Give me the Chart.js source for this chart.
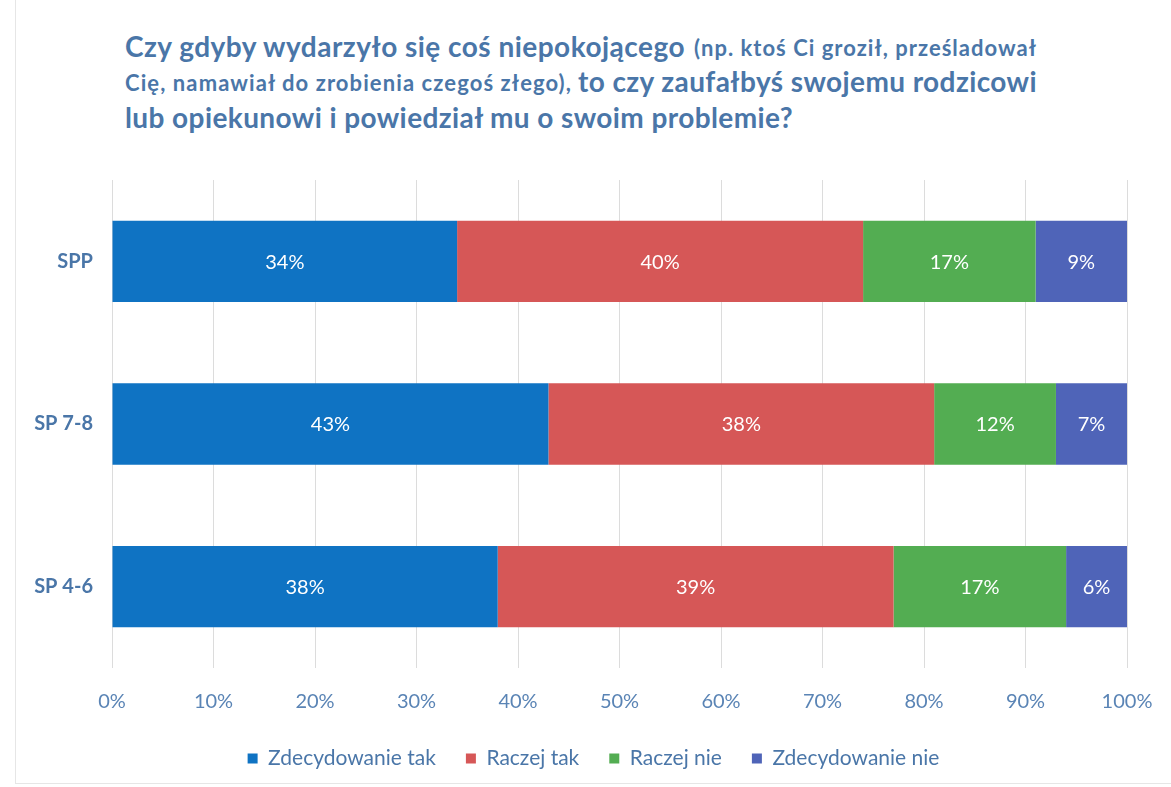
<!DOCTYPE html>
<html>
<head>
<meta charset="utf-8">
<script src="https://cdn.jsdelivr.net/npm/chart.js@4"></script>
<style>
  html,body{margin:0;padding:0;background:#fff;}
  #wrap{position:relative;width:1171px;height:787px;overflow:hidden;}
  #frame{position:absolute;left:15px;top:-2px;width:1160px;height:786px;border:1px solid #e6e6e6;box-sizing:border-box;}
  .t{position:absolute;font-family:Lato,"Open Sans",sans-serif;font-weight:bold;color:#4a76a8;line-height:1;white-space:nowrap;}
  .big{font-size:28px;}
  .small{font-size:22px;}
  canvas{position:absolute;left:0;top:0;}
</style>
</head>
<body>
<div id="wrap">
  <div id="frame"></div>
  <span class="t big"   data-x="125" data-b="57"  data-w="560">Czy gdyby wydarzyło się coś niepokojącego</span>
  <span class="t small" data-x="694" data-b="57"  data-w="343">(np. ktoś Ci groził, prześladował</span>
  <span class="t small" data-x="125" data-b="92"  data-w="447">Cię, namawiał do zrobienia czegoś złego),</span>
  <span class="t big"   data-x="578" data-b="92"  data-w="459">to czy zaufałbyś swojemu rodzicowi</span>
  <span class="t big"   data-x="125" data-b="128" data-w="668">lub opiekunowi i powiedział mu o swoim problemie?</span>
  <canvas id="c" width="1171" height="787"></canvas>
</div>
<script>
// fit title runs to the reference widths
document.querySelectorAll('.t').forEach(el => {
  const fs = parseFloat(getComputedStyle(el).fontSize);
  el.style.left = el.dataset.x + 'px';
  el.style.top = (parseFloat(el.dataset.b) - 0.887 * fs) + 'px';
  const w = el.getBoundingClientRect().width;
  const n = el.textContent.length;
  el.style.letterSpacing = ((parseFloat(el.dataset.w) - w) / n) + 'px';
});
</script>
<script>
const categories = ["SPP", "SP 7-8", "SP 4-6"];
const seriesNames = ["Zdecydowanie tak", "Raczej tak", "Raczej nie", "Zdecydowanie nie"];
const zdecydowanieTak = [34, 43, 38];
const raczejTak = [40, 38, 39];
const raczejNie = [17, 12, 17];
const zdecydowanieNie = [9, 7, 6];
const xTicks = [0, 10, 20, 30, 40, 50, 60, 70, 80, 90, 100];
const colors = ["#0f73c3", "#d65757", "#53ad52", "#4f64b8"];

const values = [zdecydowanieTak, raczejTak, raczejNie, zdecydowanieNie];
const FONT = 'Lato, "Open Sans", sans-serif';

const labelPlugin = {
  id: 'segLabels',
  afterLayout(chart) {
    // the reference legend sits slightly right of centre
    if (chart.legend) { chart.legend.left += 30; chart.legend.right += 30; }
  },
  afterDatasetsDraw(chart) {
    const ctx = chart.ctx;
    ctx.save();
    ctx.fillStyle = '#ffffff';
    ctx.font = '20px ' + FONT;
    ctx.textAlign = 'center';
    ctx.textBaseline = 'middle';
    chart.data.datasets.forEach((ds, di) => {
      const meta = chart.getDatasetMeta(di);
      meta.data.forEach((bar, i) => {
        const cx = (bar.x + bar.base) / 2;
        ctx.fillText(ds.data[i] + '%', cx, bar.y + 1);
      });
    });
    ctx.restore();
  }
};

new Chart(document.getElementById('c'), {
  type: 'bar',
  data: {
    labels: categories,
    datasets: seriesNames.map((n, i) => ({
      label: n,
      data: values[i],
      backgroundColor: colors[i],
      borderWidth: 0,
      barPercentage: 0.5,
      categoryPercentage: 1.0
    }))
  },
  options: {
    indexAxis: 'y',
    responsive: false,
    animation: false,
    layout: { padding: { top: 180, right: 44, bottom: 8, left: 0 } },
    scales: {
      x: {
        stacked: true,
        min: 0, max: 100,
        afterBuildTicks(scale) { scale.ticks = xTicks.map(v => ({ value: v })); },
        ticks: {
          callback: v => v + '%',
          color: '#5a84b5',
          font: { size: 20, family: FONT },
          padding: 22,
          maxRotation: 0
        },
        grid: { color: '#dcdcdc', drawTicks: false },
        border: { display: false },
        afterFit(scale) { scale.height = 50; scale.paddingRight = 0; scale.paddingLeft = 0; }
      },
      y: {
        stacked: true,
        ticks: {
          color: '#4a76a8',
          font: { size: 20, weight: 'bold', family: FONT },
          padding: 19
        },
        grid: { display: false, drawTicks: false },
        border: { display: false },
        afterFit(scale) { scale.width = 112; }
      }
    },
    plugins: {
      legend: {
        position: 'bottom',
        labels: {
          boxWidth: 10, boxHeight: 10,
          color: '#4a76a8',
          font: { size: 21, family: FONT },
          padding: 30
        }
      },
      tooltip: { enabled: false },
      title: { display: false }
    }
  },
  plugins: [labelPlugin]
});
</script>
</body>
</html>
